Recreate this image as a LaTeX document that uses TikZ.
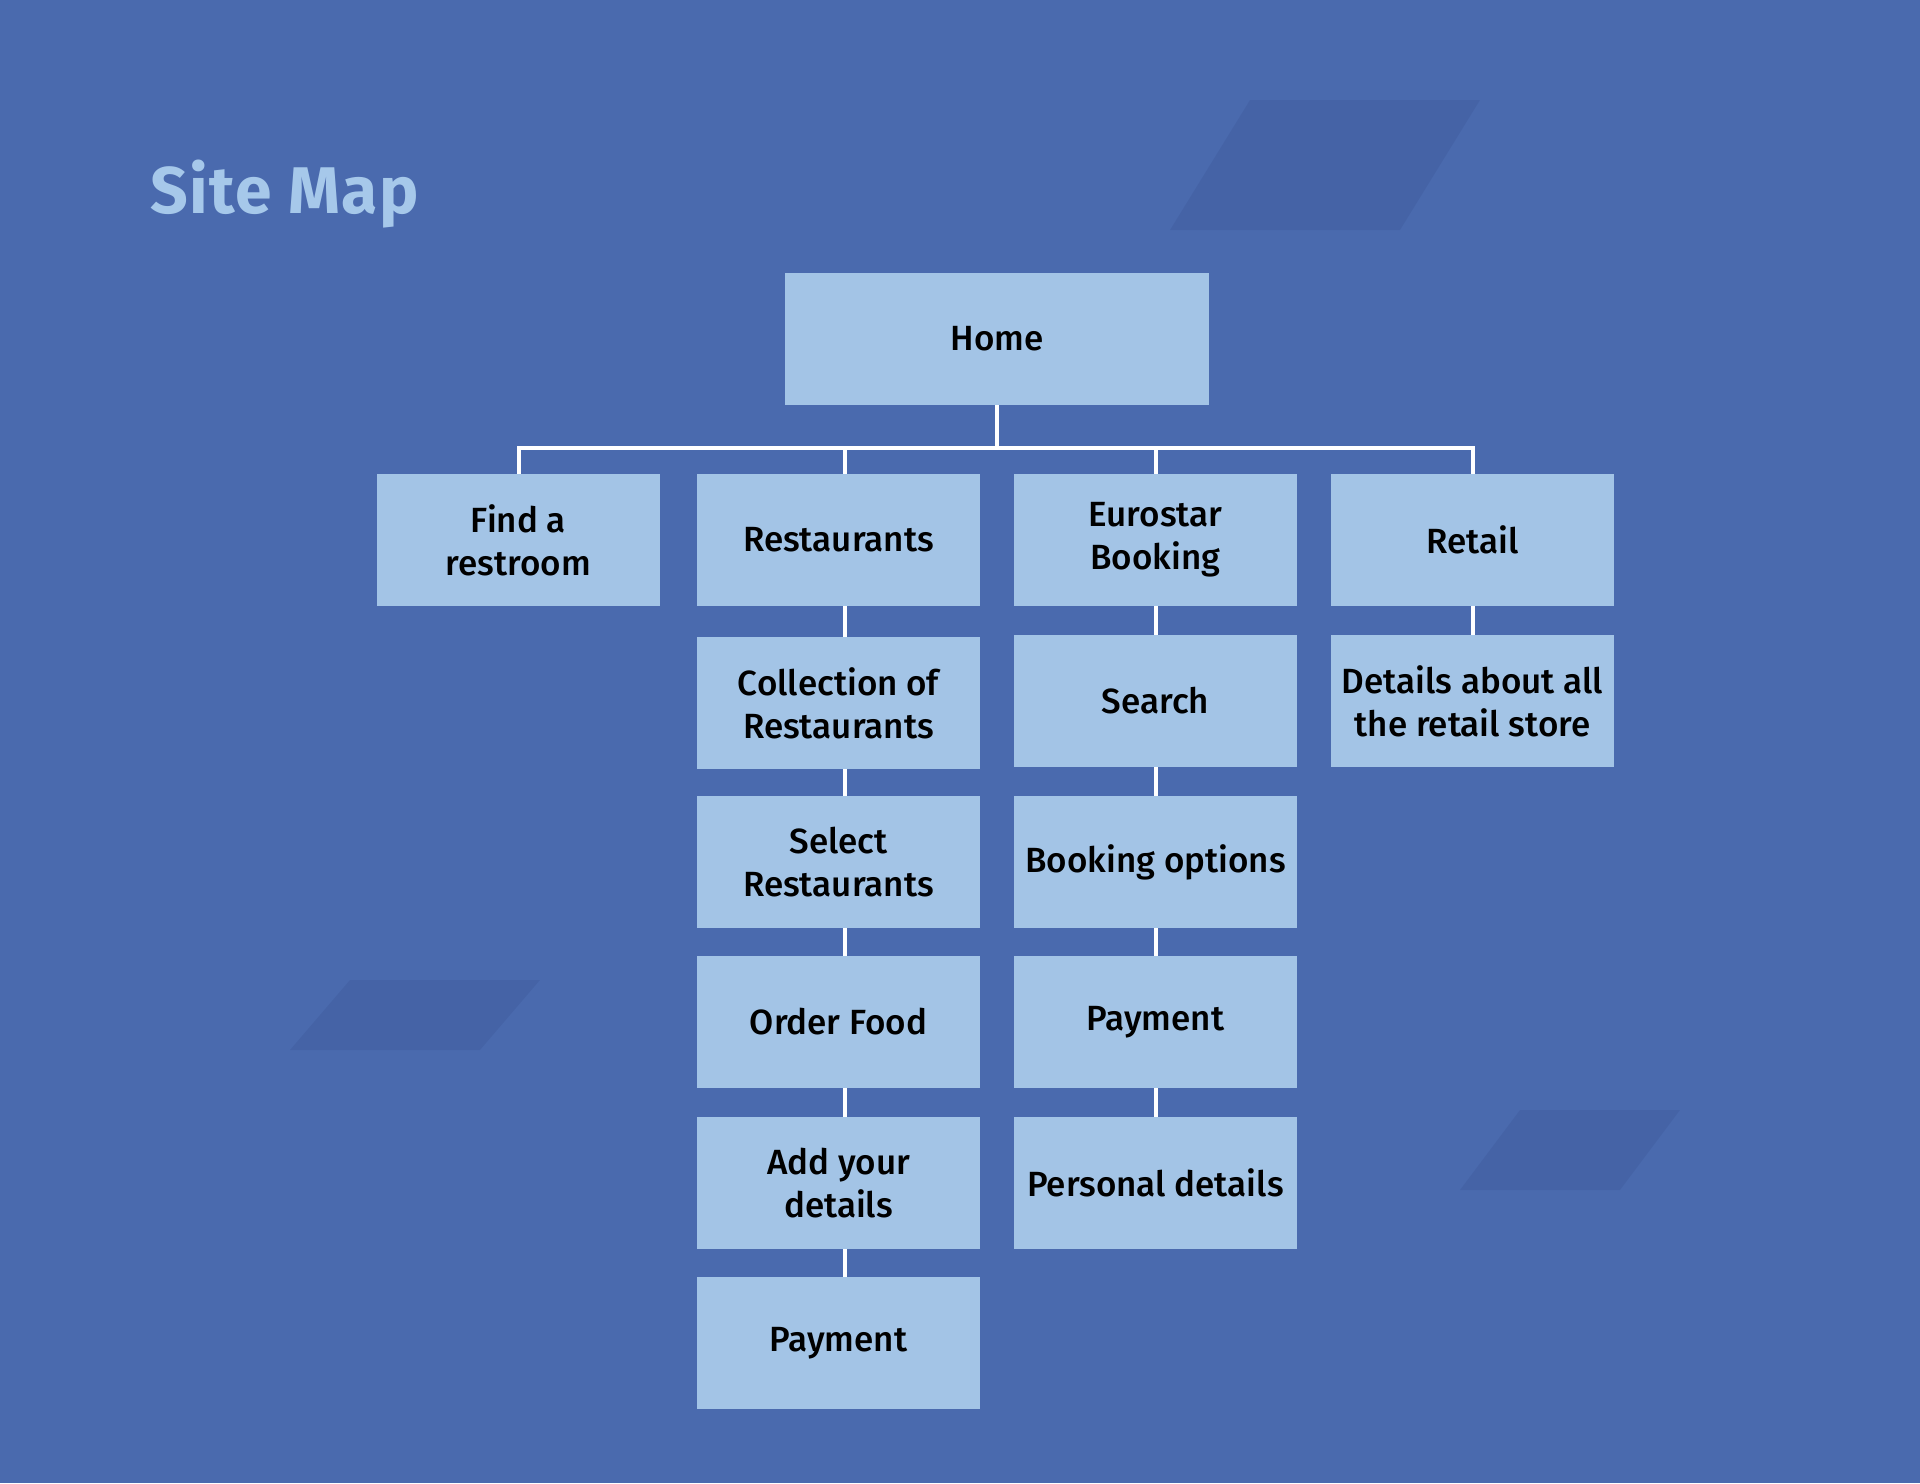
\documentclass[tikz,border=0pt]{standalone}
\usepackage{fontspec}
\setmainfont{Fira Sans}
\newfontfamily\medfont{Fira Sans Medium}
\definecolor{bgblue}{HTML}{4A6AAE}
\definecolor{boxblue}{HTML}{A3C4E6}
\definecolor{titleblue}{HTML}{A6C8EA}
\begin{document}
\begin{tikzpicture}[x=0.5pt,y=-0.5pt,
  pagebox/.style={fill=boxblue, draw=none, minimum width=141.5pt, minimum height=66pt,
    align=center, inner sep=0pt, font=\medfont\fontsize{17.5}{21.5}\selectfont, text=black},
  conn/.style={draw=white, line width=2pt}]
\fill[bgblue] (0,0) rectangle (1920,1483);
\useasboundingbox (0,0) rectangle (1920,1483);
% a few faint darker bands hinting at the textured backdrop
\begin{scope}[opacity=0.06]
\fill[black!80!blue] (1250,100) -- (1480,100) -- (1400,230) -- (1170,230) -- cycle;
\fill[black!80!blue] (350,980) -- (540,980) -- (480,1050) -- (290,1050) -- cycle;
\fill[black!80!blue] (1520,1110) -- (1680,1110) -- (1620,1190) -- (1460,1190) -- cycle;
\end{scope}

\node[anchor=base west, inner sep=0pt, text=titleblue, font=\fontsize{33}{38}\selectfont\bfseries\addfontfeature{LetterSpace=2}] (title) at (150,213) {Site Map};

\node[pagebox, minimum width=212pt] (home) at (997,339) {Home};

\node[pagebox] (f1) at (518.5,540) {Find a\\restroom};
\node[pagebox] (r1) at (838.5,540) {Restaurants};
\node[pagebox] (e1) at (1155.5,540) {Eurostar\\Booking};
\node[pagebox] (t1) at (1472.5,540) {Retail};

\node[pagebox] (r2) at (838.5,703) {Collection of\\Restaurants};
\node[pagebox] (r3) at (838.5,862) {Select\\Restaurants};
\node[pagebox] (r4) at (838.5,1022) {Order Food};
\node[pagebox] (r5) at (838.5,1183) {Add your\\details};
\node[pagebox] (r6) at (838.5,1343) {Payment};

\node[pagebox] (e2) at (1155.5,701) {Search};
\node[pagebox] (e3) at (1155.5,862) {Booking options};
\node[pagebox] (e4) at (1155.5,1022) {Payment};
\node[pagebox] (e5) at (1155.5,1183) {Personal details};

\node[pagebox] (t2) at (1472.5,701) {Details about all\\the retail store};

\coordinate (bus) at (997,448);
\draw[conn] (home.south) -- (home.south |- bus);
\draw[conn] (f1.north) -- (f1.north |- bus) -- (t1.north |- bus) -- (t1.north);
\draw[conn] ([xshift=3pt]r1.north) -- ([xshift=3pt]r1.north |- bus);
\draw[conn] (e1.north) -- (e1.north |- bus);

\foreach \a/\b in {r1/r2,r2/r3,r3/r4,r4/r5,r5/r6}
  \draw[conn] ([xshift=3pt]\a.south) -- ([xshift=3pt]\b.north);
\foreach \a/\b in {e1/e2,e2/e3,e3/e4,e4/e5,t1/t2}
  \draw[conn] (\a.south) -- (\b.north);
\end{tikzpicture}
\end{document}
